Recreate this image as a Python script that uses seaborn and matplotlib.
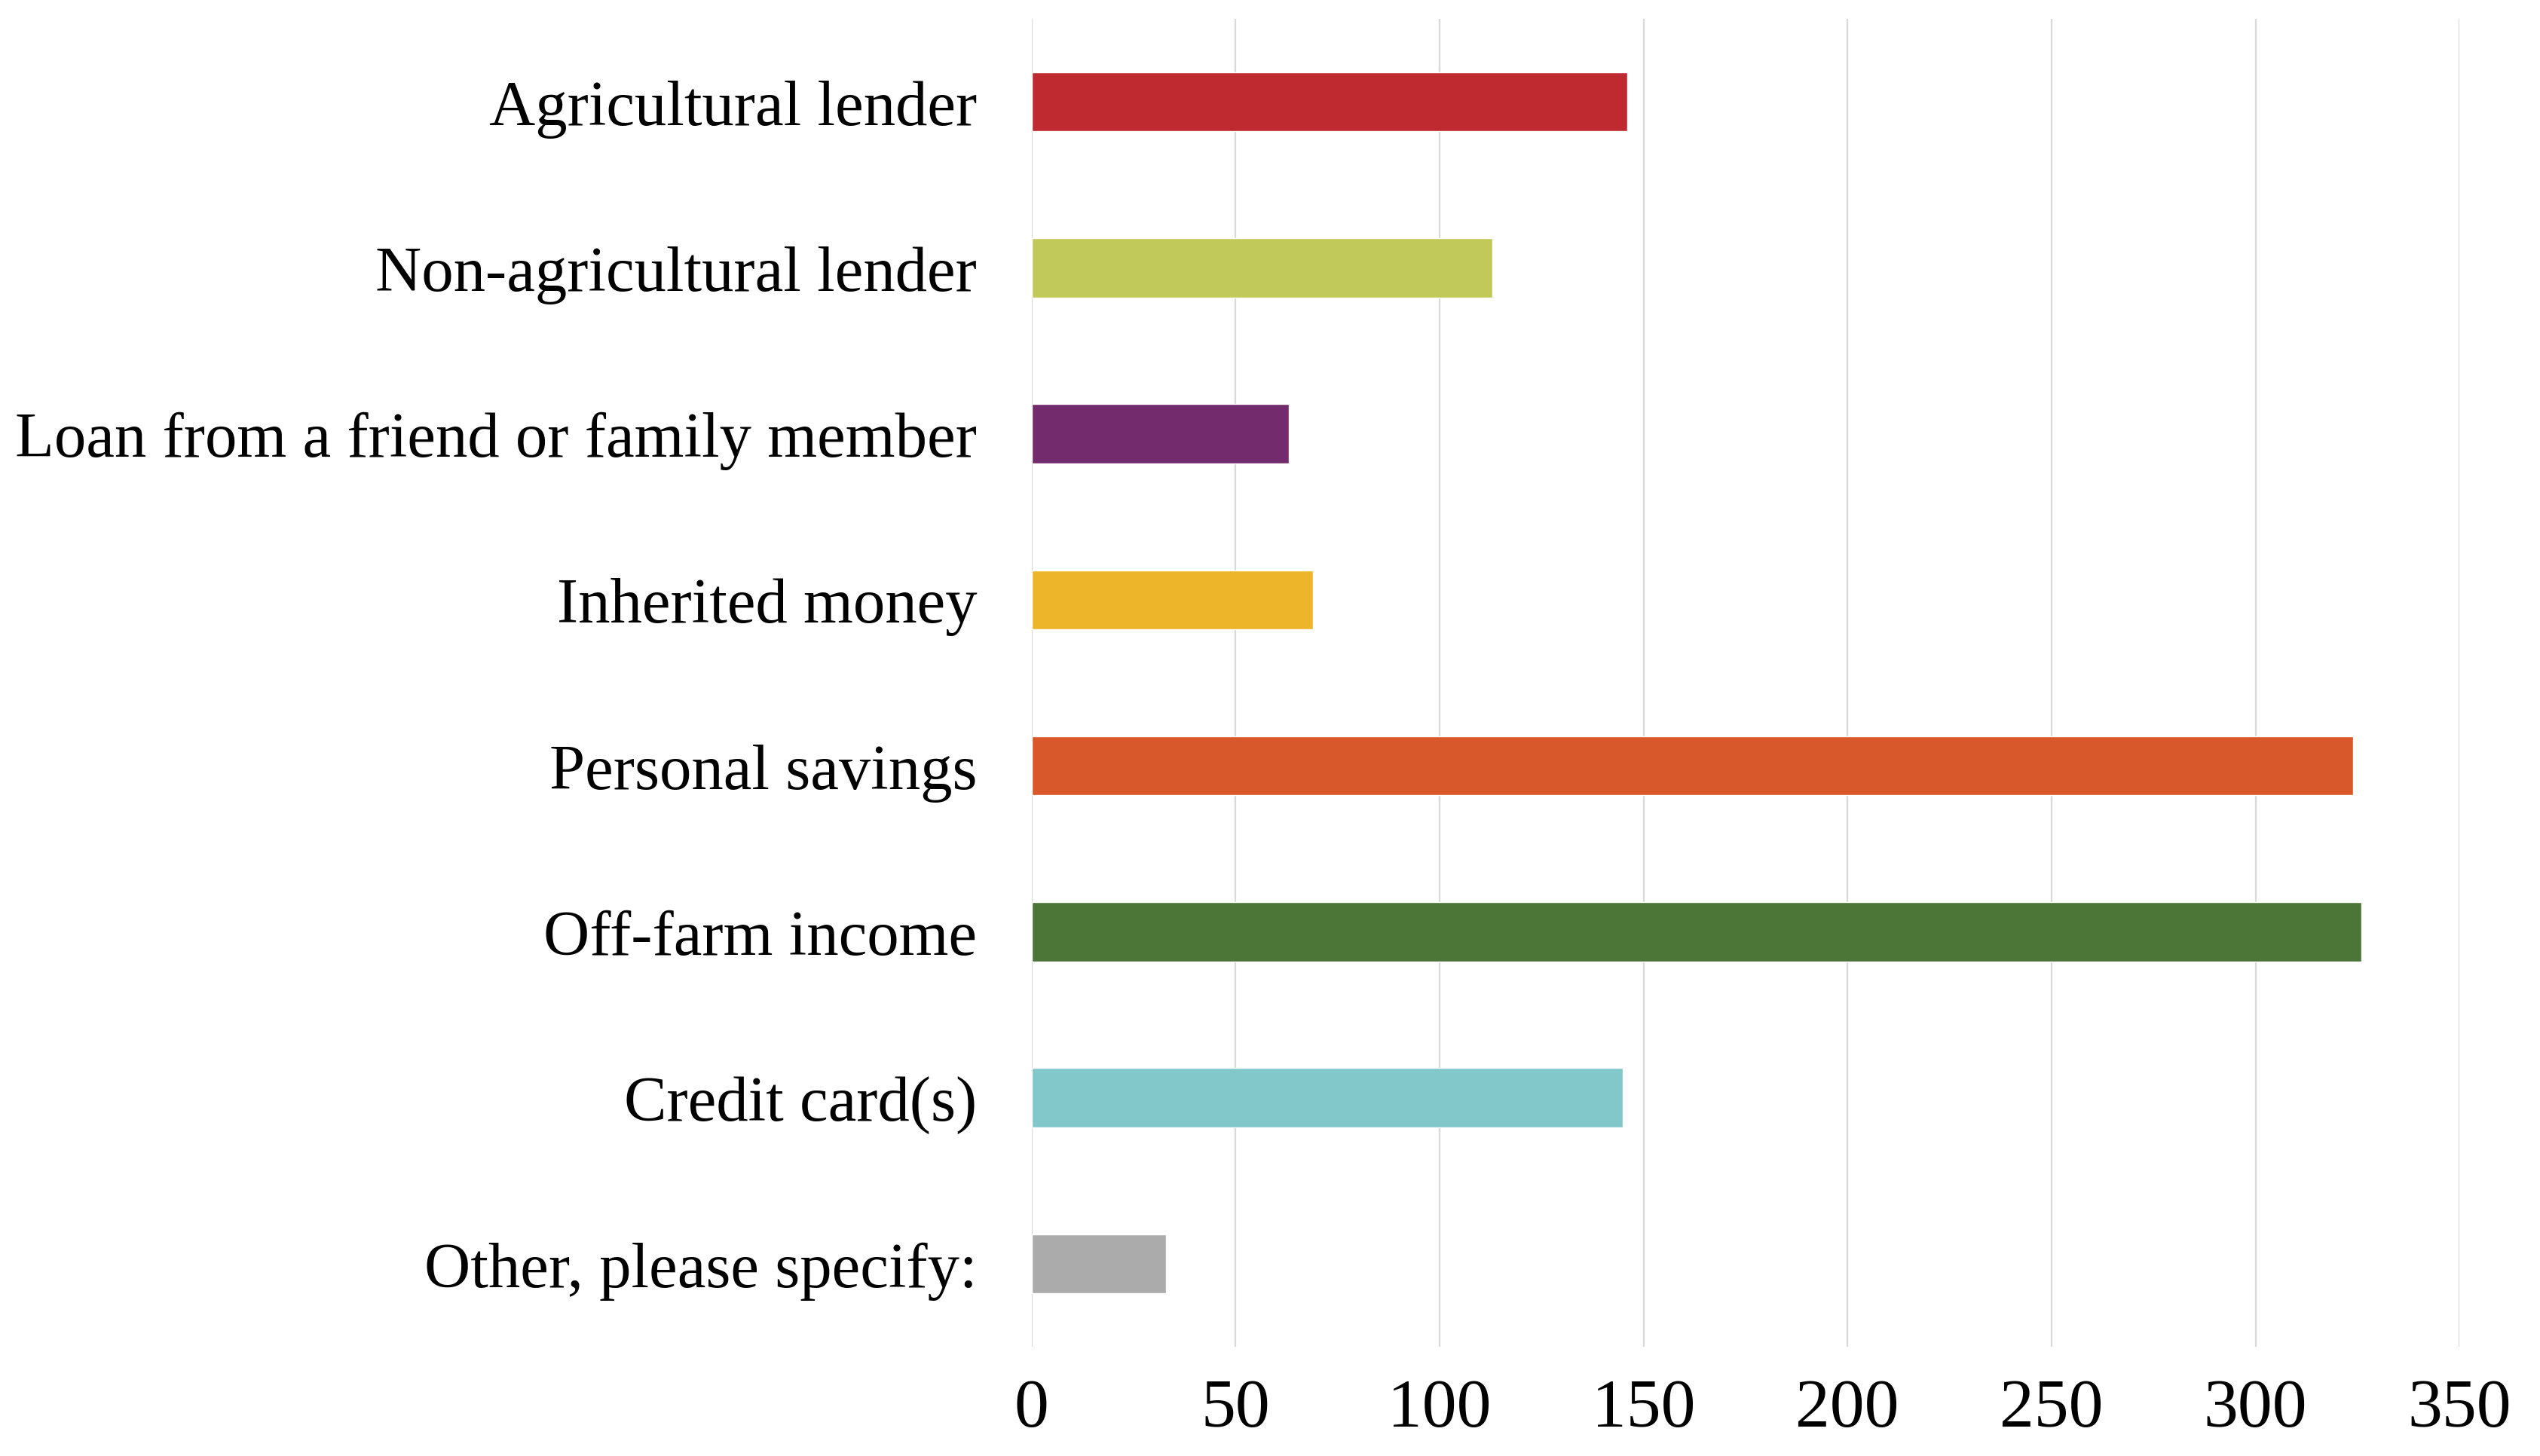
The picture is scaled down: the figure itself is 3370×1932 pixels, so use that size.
import matplotlib
matplotlib.use("Agg")
import matplotlib.pyplot as plt
import seaborn as sns
import pandas as pd

categories = [
    "Agricultural lender",
    "Non-agricultural lender",
    "Loan from a friend or family member",
    "Inherited money",
    "Personal savings",
    "Off-farm income",
    "Credit card(s)",
    "Other, please specify:",
]
values = [146, 113, 63, 69, 324, 326, 145, 33]
colors = ["#BF2A30", "#C0C95A", "#742B6E", "#EDB52A", "#D9582B", "#4C7637", "#82C7CA", "#ABABAB"]
x_ticks = [0, 50, 100, 150, 200, 250, 300, 350]

sns.set_theme(style="white")
plt.rcParams["font.family"] = ["Liberation Serif", "DejaVu Serif"]

df = pd.DataFrame({"category": categories, "value": values})

fig = plt.figure(figsize=(33.7, 19.33), dpi=100)
ax = fig.add_axes([0.4061, 0.075, 0.9683 - 0.4061, 0.9865 - 0.075])

sns.barplot(data=df, y="category", x="value", hue="category", palette=colors,
            order=categories, hue_order=categories, orient="h", width=0.356,
            legend=False, ax=ax, saturation=1, zorder=3)

ax.set_xlim(0, 350)
ax.set_ylim(7.5, -0.5)
ax.set_xticks(x_ticks)
ax.set_xticklabels([str(t) for t in x_ticks])
ax.xaxis.grid(True, color="#D9D9D9", linewidth=1.6, zorder=0)
ax.yaxis.grid(False)
ax.set_axisbelow(True)
for s in ax.spines.values():
    s.set_visible(False)
ax.set_xlabel("")
ax.set_ylabel("")
ax.tick_params(axis="x", length=0, pad=30, labelsize=66, colors="black")
ax.tick_params(axis="y", length=0, pad=52, labelsize=61, colors="black")

fig.savefig("out.png", dpi=100, facecolor="white")
